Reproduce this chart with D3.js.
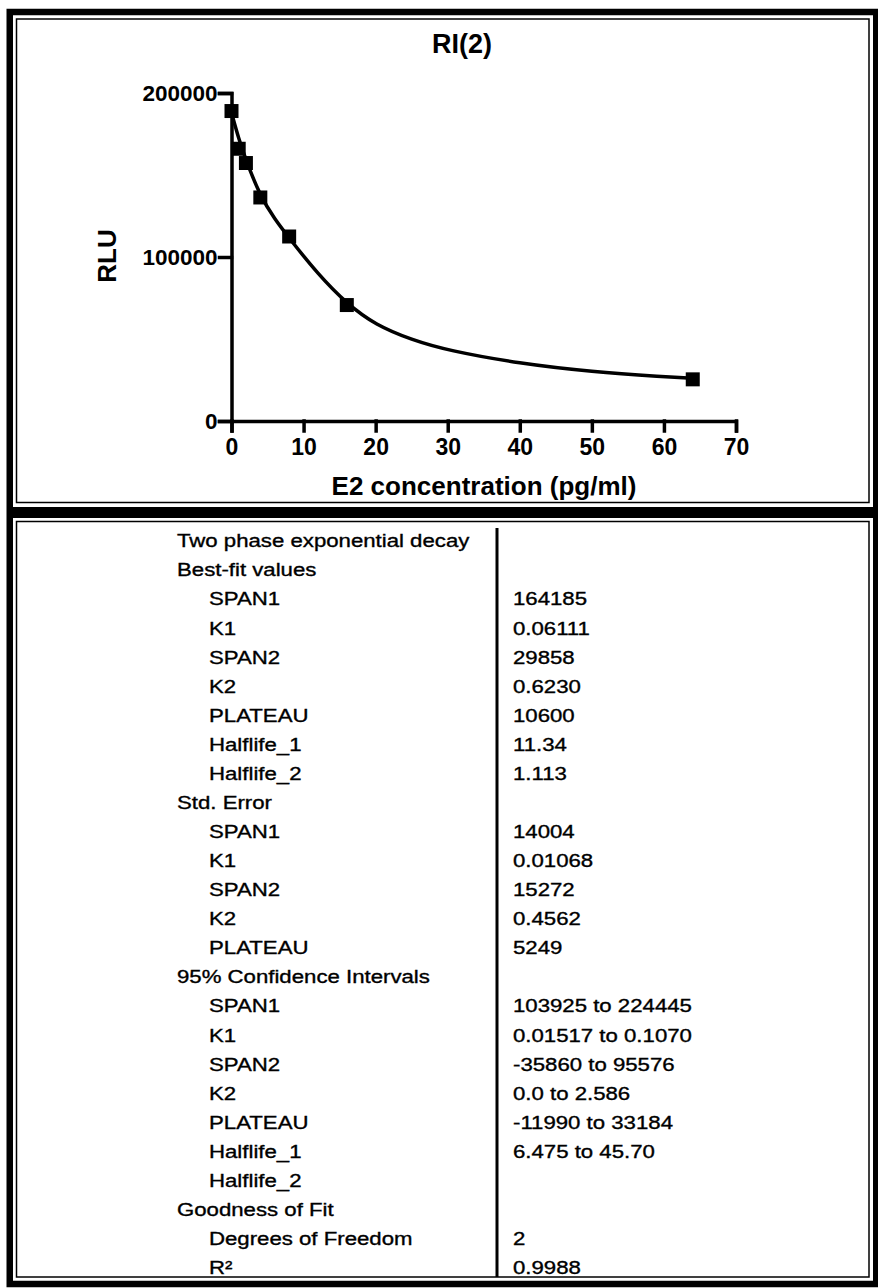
<!DOCTYPE html>
<html>
<head>
<meta charset="utf-8">
<script src="https://cdn.jsdelivr.net/npm/d3@7"></script>
<style>
  body { margin: 0; background: #fff; }
  svg { display: block; font-family: "Liberation Sans", Arial, sans-serif; }
</style>
</head>
<body>
<div id="graph-container"></div>
<script>
// measured points
const conc = [0, 1, 2, 4, 8, 16, 64]
const rlu = [189000, 166000, 157300, 136300, 112500, 70700, 25400]

// fitted curve
const fitX = [0, 1, 2, 4, 6, 8, 12, 16, 20, 25, 30, 40, 50, 60, 64]
const fitY = [188000, 172000, 159000, 137000, 123000, 111500, 89500, 71500, 58500, 49500, 43000, 35000, 30000, 27000, 26000]

const xTicks = [0, 10, 20, 30, 40, 50, 60, 70]
const yTicks = [0, 100000, 200000]

// results table
const rowLabels = [
    "Two phase exponential decay", "Best-fit values",
    "SPAN1", "K1", "SPAN2", "K2", "PLATEAU", "Halflife_1", "Halflife_2",
    "Std. Error",
    "SPAN1", "K1", "SPAN2", "K2", "PLATEAU",
    "95% Confidence Intervals",
    "SPAN1", "K1", "SPAN2", "K2", "PLATEAU", "Halflife_1", "Halflife_2",
    "Goodness of Fit",
    "Degrees of Freedom", "R²"
]
const rowValues = [
    "", "",
    "164185", "0.06111", "29858", "0.6230", "10600", "11.34", "1.113",
    "",
    "14004", "0.01068", "15272", "0.4562", "5249",
    "",
    "103925 to 224445", "0.01517 to 0.1070", "-35860 to 95576", "0.0 to 2.586", "-11990 to 33184", "6.475 to 45.70", "",
    "",
    "2", "0.9988"
]
const sectionRows = ["Two phase exponential decay", "Best-fit values", "Std. Error", "95% Confidence Intervals", "Goodness of Fit"]

const width = 878
const height = 1288

const svg = d3.select("#graph-container")
    .append("svg")
    .attr("id", "graph")
    .attr("width", width)
    .attr("height", height)

// frame
svg.append("rect")
    .attr("x", 9.75).attr("y", 12)
    .attr("width", 866.5).attr("height", 1272)
    .attr("fill", "none").attr("stroke", "#000").attr("stroke-width", 6.5)
svg.append("rect")
    .attr("x", 9).attr("y", 507)
    .attr("width", 868).attr("height", 11)
    .attr("fill", "#000")
svg.append("rect")
    .attr("x", 16.5).attr("y", 19)
    .attr("width", 852.5).attr("height", 483.5)
    .attr("fill", "none").attr("stroke", "#000").attr("stroke-width", 1.5)
svg.append("rect")
    .attr("x", 16.5).attr("y", 521.5)
    .attr("width", 852.5).attr("height", 755.5)
    .attr("fill", "none").attr("stroke", "#000").attr("stroke-width", 1.5)

// chart
const x = d3.scaleLinear().domain([0, 70]).range([231.5, 736])
const y = d3.scaleLinear().domain([0, 200000]).range([421, 93])

svg.append("text")
    .attr("x", 462).attr("y", 53)
    .attr("text-anchor", "middle")
    .style("font-size", "27px").style("font-weight", "bold")
    .text("RI(2)")

const xAxis = svg.append("g")
    .attr("transform", `translate(0, ${y(0)})`)
    .call(d3.axisBottom(x).tickValues(xTicks).tickSize(10).tickPadding(8).tickFormat(d3.format("d")))
const yAxis = svg.append("g")
    .attr("transform", `translate(${x(0)}, 0)`)
    .call(d3.axisLeft(y).tickValues(yTicks).tickSize(12).tickPadding(2).tickFormat(d3.format("d")))

xAxis.selectAll("path, line").attr("stroke", "#000").attr("stroke-width", 3.5).attr("stroke-linecap", "square")
yAxis.selectAll("path, line").attr("stroke", "#000").attr("stroke-width", 3.5).attr("stroke-linecap", "square")
xAxis.selectAll("text")
    .attr("fill", "#000")
    .style("font-size", "23px").style("font-weight", "bold")
    .style("font-family", "'Liberation Sans', Arial, sans-serif")
yAxis.selectAll("text")
    .attr("fill", "#000")
    .style("font-size", "22.5px").style("font-weight", "bold")
    .style("font-family", "'Liberation Sans', Arial, sans-serif")

svg.append("text")
    .attr("x", 484).attr("y", 495)
    .attr("text-anchor", "middle")
    .style("font-size", "26px").style("font-weight", "bold")
    .text("E2 concentration (pg/ml)")

svg.append("text")
    .attr("transform", "translate(116, 256) rotate(-90)")
    .attr("text-anchor", "middle")
    .style("font-size", "26px").style("font-weight", "bold")
    .text("RLU")

const line = d3.line()
    .x(d => x(d[0]))
    .y(d => y(d[1]))
    .curve(d3.curveBasis)

svg.append("path")
    .datum(d3.zip(fitX, fitY))
    .attr("d", line)
    .attr("fill", "none")
    .attr("stroke", "#000")
    .attr("stroke-width", 3.5)

svg.selectAll(".pt")
    .data(d3.zip(conc, rlu))
    .enter()
    .append("path")
    .attr("class", "pt")
    .attr("transform", d => `translate(${x(d[0])}, ${y(d[1])})`)
    .attr("d", d3.symbol(d3.symbolSquare, 196))
    .attr("fill", "#000")

// table
const rowY = d3.scaleLinear().domain([0, rowLabels.length - 1]).range([540.7, 1267.5])

svg.append("line")
    .attr("x1", 497).attr("x2", 497)
    .attr("y1", 528).attr("y2", 1277)
    .attr("stroke", "#000").attr("stroke-width", 3)

const rows = svg.selectAll(".row")
    .data(rowLabels)
    .enter()
    .append("g")
    .attr("class", "row")

rows.append("text")
    .attr("transform", (d, i) => `translate(${sectionRows.includes(d) ? 177 : 209}, ${rowY(i) + 6.6}) scale(1.2, 1)`)
    .style("font-size", "18.5px")
    .attr("stroke", "#000").attr("stroke-width", 0.35)
    .text(d => d)

rows.append("text")
    .attr("transform", (d, i) => `translate(513, ${rowY(i) + 6.6}) scale(1.2, 1)`)
    .style("font-size", "18.5px")
    .attr("stroke", "#000").attr("stroke-width", 0.35)
    .text((d, i) => rowValues[i])
</script>
</body>
</html>
